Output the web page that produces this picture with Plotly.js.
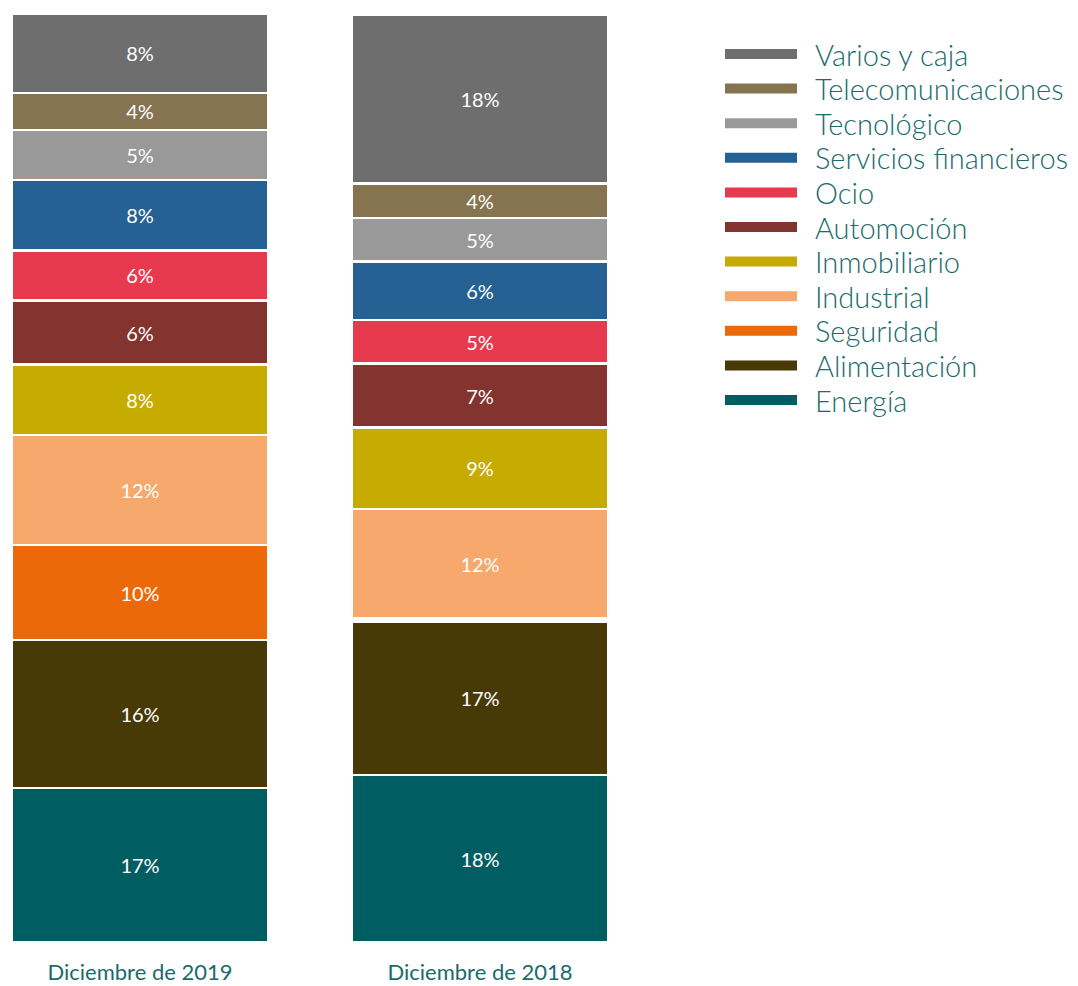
<!DOCTYPE html>
<html>
<head>
<meta charset="utf-8">
<script src="https://cdn.plot.ly/plotly-3.0.1.min.js"></script>
<style>
html,body{margin:0;padding:0;background:#fff;}
#chart{width:1078px;height:986px;}
</style>
</head>
<body>
<div id="chart"></div>
<script>
// Categories (x axis)
const periods = ["Diciembre de 2019", "Diciembre de 2018"];

// Sectors, stacked bottom to top
const sectors = ["Energía", "Alimentación", "Seguridad", "Industrial", "Inmobiliario",
  "Automoción", "Ocio", "Servicios financieros", "Tecnológico", "Telecomunicaciones", "Varios y caja"];

const colors = ["#005e62", "#483a07", "#eb6909", "#f6a86d", "#c6ab00",
  "#84342f", "#e83a4e", "#266193", "#999999", "#85744f", "#6e6e6e"];

// Shares (% of portfolio)
const share2019 = [16.6, 16.0, 10.2, 11.9, 7.6, 6.9, 5.4, 7.6, 5.4, 4.0, 8.5];
const share2018 = [18.0, 16.6, 0.3, 11.8, 8.8, 6.9, 4.7, 6.3, 4.7, 3.7, 18.2];

// Printed labels (%)
const label2019 = [17, 16, 10, 12, 8, 6, 6, 8, 5, 4, 8];
const label2018 = [18, 17, null, 12, 9, 7, 5, 6, 5, 4, 18];

const FONT = "Lato, 'Open Sans', sans-serif";

const traces = sectors.map((s, i) => ({
  type: "bar",
  name: s,
  x: periods,
  y: [share2019[i], share2018[i]],
  text: [label2019[i], label2018[i]].map(v => v === null ? "" : v + "%"),
  textposition: "inside",
  insidetextanchor: "middle",
  textangle: 0,
  constraintext: "none",
  textfont: {family: FONT, size: 20, color: "#ffffff"},
  marker: {color: colors[i], line: {color: "#ffffff", width: 2.5}},
  hoverinfo: "skip",
  showlegend: false
}));

// Custom legend (top to bottom order), wide swatches
const legendOrder = sectors.slice().reverse();
const legendColors = colors.slice().reverse();
const plotTop = 15, plotBottom = 942, plotLeft = 12, plotRight = 608;
const pxToPaperY = y => (plotBottom - y) / (plotBottom - plotTop);
const pxToPaperX = x => (x - plotLeft) / (plotRight - plotLeft);
const legendY0 = 54, legendStep = 34.6;

const shapes = legendOrder.map((s, i) => ({
  type: "rect",
  xref: "paper", yref: "paper",
  xsizemode: "pixel", ysizemode: "pixel",
  xanchor: pxToPaperX(725), yanchor: pxToPaperY(legendY0 + i * legendStep),
  x0: 0, x1: 72, y0: -5, y1: 5,
  fillcolor: legendColors[i],
  line: {width: 0}
}));

const annotations = legendOrder.map((s, i) => ({
  text: s,
  xref: "paper", yref: "paper",
  x: pxToPaperX(813), y: pxToPaperY(legendY0 + i * legendStep),
  xanchor: "left", yanchor: "middle",
  showarrow: false,
  font: {family: FONT, size: 29, color: "#1a6b6b", weight: 300}
}));

const layout = {
  width: 1078, height: 986,
  margin: {l: plotLeft, r: 1078 - plotRight, t: plotTop, b: 986 - plotBottom, pad: 0},
  paper_bgcolor: "#ffffff",
  plot_bgcolor: "#ffffff",
  barmode: "stack",
  bargap: 0.247,
  showlegend: false,
  xaxis: {
    type: "category",
    range: [-0.3765, 1.3765],
    showgrid: false, zeroline: false, showline: false, ticks: "",
    tickfont: {family: FONT, size: 22, color: "#1a6b6b"},
    ticklabelstandoff: 15,
    fixedrange: true
  },
  yaxis: {range: [0, 100], visible: false, fixedrange: true},
  shapes: shapes,
  annotations: annotations
};

Plotly.newPlot("chart", traces, layout, {displayModeBar: false, staticPlot: true});
</script>
</body>
</html>
